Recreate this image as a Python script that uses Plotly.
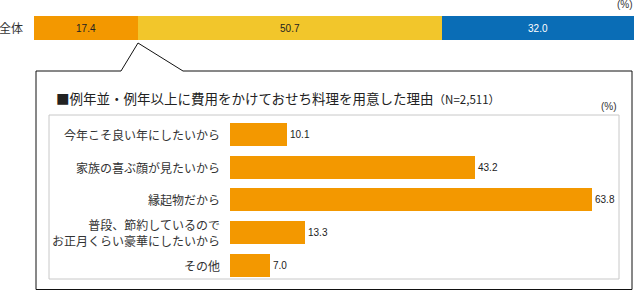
import plotly.graph_objects as go

W, H = 637, 292

# Data
overall_labels = ["増やした", "例年並み", "減らした"]
overall_values = [17.4, 50.7, 32.0]
overall_colors = ["#F39800", "#F2C62B", "#0A6DB6"]
overall_text_colors = ["#222222", "#222222", "#ffffff"]

reasons = [
    "今年こそ良い年にしたいから",
    "家族の喜ぶ顔が見たいから",
    "縁起物だから",
    "普段、節約しているので<br>お正月くらい豪華にしたいから",
    "その他",
]
reason_values = [10.1, 43.2, 63.8, 13.3, 7.0]

JP = "Noto Sans CJK JP"
NUM = "Liberation Sans"

def px_x(x):
    return x / W

def px_y(y):
    return 1 - y / H

fig = go.Figure()

# Top stacked bar
for lab, v, c, tc in zip(overall_labels, overall_values, overall_colors, overall_text_colors):
    fig.add_trace(go.Bar(
        x=[v], y=["全体"], orientation="h", name=lab,
        marker=dict(color=c, line=dict(width=0)),
        text=[f"{v:.1f}"], textposition="inside", insidetextanchor="middle",
        textfont=dict(family=NUM, size=10, color=tc),
        width=1, xaxis="x", yaxis="y", showlegend=False, hoverinfo="skip",
    ))

# Reasons bar chart
fig.add_trace(go.Bar(
    x=reason_values, y=list(range(len(reasons))), orientation="h",
    marker=dict(color="#F39800", line=dict(width=0)),
    text=[f"{v:.1f}" for v in reason_values], textposition="outside",
    textfont=dict(family=NUM, size=10, color="#222222"),
    cliponaxis=False, width=0.7, xaxis="x2", yaxis="y2", showlegend=False,
    hoverinfo="skip",
))

x2_left, x2_right = 230, 619
scale = (592 - 230) / 63.8

fig.update_layout(
    width=W, height=H,
    margin=dict(l=0, r=0, t=0, b=0),
    paper_bgcolor="white", plot_bgcolor="rgba(0,0,0,0)",
    barmode="stack", bargap=0,
    xaxis=dict(domain=[px_x(34), px_x(634)], range=[0, sum(overall_values)],
               visible=False, fixedrange=True),
    yaxis=dict(domain=[px_y(40), px_y(16)], range=[-0.5, 0.5], visible=False),
    xaxis2=dict(domain=[px_x(x2_left), px_x(x2_right)],
                range=[0, (x2_right - x2_left) / scale], visible=False, anchor="y2"),
    yaxis2=dict(domain=[px_y(281.5), px_y(118)], range=[len(reasons) - 0.5, -0.5],
                visible=False, anchor="x2"),
    font=dict(family=JP),
)

shapes = [
    # callout outer box
    dict(type="path", xref="paper", yref="paper",
         path=(f"M {px_x(121)},{px_y(71)} L {px_x(138)},{px_y(43)} L {px_x(183)},{px_y(71)} "
               f"L {px_x(632)},{px_y(71)} L {px_x(632)},{px_y(289.5)} L {px_x(36)},{px_y(289.5)} "
               f"L {px_x(36)},{px_y(71)} Z"),
         line=dict(color="#111111", width=1), fillcolor="rgba(0,0,0,0)", layer="below"),
    # inner panel
    dict(type="rect", xref="paper", yref="paper",
         x0=px_x(49), x1=px_x(619), y0=px_y(279), y1=px_y(115),
         line=dict(color="#C8C8C8", width=1), fillcolor="rgba(0,0,0,0)", layer="below"),
]
fig.update_layout(shapes=shapes)

ann = []
ann.append(dict(text="全体", x=px_x(25), y=px_y(28), xref="paper", yref="paper",
                xanchor="right", yanchor="middle", showarrow=False,
                font=dict(family=JP, size=12, color="#333333")))
ann.append(dict(text="(%)", x=px_x(635), y=px_y(5), xref="paper", yref="paper",
                xanchor="right", yanchor="middle", showarrow=False,
                font=dict(family=NUM, size=10, color="#333333")))
ann.append(dict(text="■例年並・例年以上に費用をかけておせち料理を用意した理由"
                     "<span style='font-size:11.5px'>（N=2,511）</span>",
                x=px_x(54), y=px_y(98), xref="paper", yref="paper",
                xanchor="left", yanchor="middle", showarrow=False,
                font=dict(family=JP, size=13.5, color="#222222")))
ann.append(dict(text="(%)", x=px_x(619), y=px_y(106), xref="paper", yref="paper",
                xanchor="right", yanchor="middle", showarrow=False,
                font=dict(family=NUM, size=10, color="#333333")))
for i, r in enumerate(reasons):
    ann.append(dict(text=r, x=px_x(222), y=i, xref="paper", yref="y2",
                    xanchor="right", yanchor="middle", align="right", showarrow=False,
                    font=dict(family=JP, size=12, color="#333333")))
fig.update_layout(annotations=ann)

fig.write_html("out.html")
